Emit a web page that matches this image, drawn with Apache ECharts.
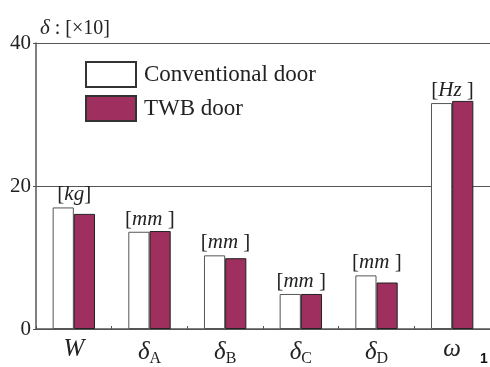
<!DOCTYPE html>
<html><head><meta charset="utf-8">
<script src="https://cdn.jsdelivr.net/npm/echarts@6/dist/echarts.min.js"></script>
<style>html,body{margin:0;padding:0;background:#fff}#c{width:490px;height:367px}</style>
</head><body><div id="c"></div>
<script>
const categories = ['W', 'δA', 'δB', 'δC', 'δD', 'ω'];
const conventional = [17.0, 13.6, 10.3, 4.9, 7.5, 31.6];
const twb = [16.1, 13.7, 9.9, 4.9, 6.5, 31.9];
const units = ['kg', 'mm ', 'mm ', 'mm ', 'mm ', 'Hz '];
const yTicks = [0, 20, 40];

const serif = '"Liberation Serif", "DejaVu Serif", serif';
const catLabel = {
  'W': '{it|W}',
  'δA': '{it|δ}{sub|A}',
  'δB': '{it|δ}{sub|B}',
  'δC': '{it|δ}{sub|C}',
  'δD': '{it|δ}{sub|D}',
  'ω': '{it|ω}'
};
const chart = echarts.init(document.getElementById('c'));
chart.setOption({
  animation: false,
  backgroundColor: '#fff',
  title: {
    text: '{it|δ}{n| : [×10]}',
    left: 35, top: 13,
    textStyle: {
      fontWeight: 'normal',
      rich: {
        it: {fontFamily: serif, fontStyle: 'italic', fontWeight: 'normal', fontSize: 21, color: '#222'},
        n: {fontFamily: serif, fontWeight: 'normal', fontSize: 20, color: '#222'}
      }
    }
  },
  legend: {
    orient: 'vertical', left: 80, top: 56,
    itemWidth: 50, itemHeight: 25, itemGap: 7,
    icon: 'rect',
    textStyle: {fontFamily: serif, fontSize: 23, color: '#222', padding: [0,0,0,3]},
    data: [
      {name: 'Conventional door', itemStyle: {color: '#fff', borderColor: '#333', borderWidth: 2}},
      {name: 'TWB door', itemStyle: {color: '#9e2f5e', borderColor: '#333', borderWidth: 2}}
    ]
  },
  grid: {left: 36, top: 43, width: 462, height: 286, containLabel: false},
  xAxis: {
    type: 'category', data: categories,
    axisLine: {lineStyle: {color: '#555', width: 1.5}},
    axisTick: {show: true, inside: true, length: 3, lineStyle: {color: '#555'}},
    axisLabel: {
      interval: 0,
      margin: 8,
      formatter: v => catLabel[v],
      rich: {
        it: {fontFamily: serif, fontStyle: 'italic', fontSize: 25, color: '#222'},
        sub: {fontFamily: serif, fontSize: 16, color: '#222', padding: [14, 0, 0, 0]}
      }
    }
  },
  yAxis: {
    type: 'value', min: 0, max: 40, interval: 20,
    axisLine: {show: true, lineStyle: {color: '#555', width: 1.5}},
    axisTick: {show: true, length: 3, lineStyle: {color: '#555'}},
    axisLabel: {
      margin: 5, fontFamily: serif, fontSize: 21, color: '#222',
      formatter: v => yTicks.includes(v) ? String(v) : ''
    },
    splitLine: {show: true, lineStyle: {color: '#555', width: 1.2}}
  },
  series: [
    {
      name: 'Conventional door', type: 'bar', data: conventional,
      barGap: '0%', barCategoryGap: '44%',
      itemStyle: {color: '#fff', borderColor: '#555', borderWidth: 1},
      label: {
        show: true, position: 'top', offset: [11, 0], distance: 2,
        formatter: p => '{b|[}{it|' + units[p.dataIndex] + '}{b|]}',
        rich: {
          b: {fontFamily: serif, fontSize: 21, color: '#222'},
          it: {fontFamily: serif, fontStyle: 'italic', fontSize: 21, color: '#222'}
        }
      }
    },
    {
      name: 'TWB door', type: 'bar', data: twb,
      itemStyle: {color: '#9e2f5e', borderColor: '#222', borderWidth: 1}
    }
  ],
  graphic: [{
    type: 'text', left: 480, top: 352,
    style: {text: '1', font: 'bold 14px "Liberation Sans", sans-serif', fill: '#111'}
  }]
});
</script></body></html>
